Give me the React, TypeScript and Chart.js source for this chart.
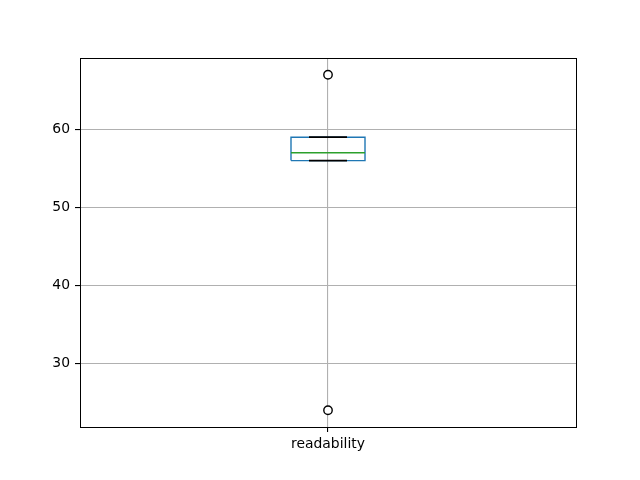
import React, { useEffect, useRef } from "react";
import { Chart, registerables } from "chart.js";

Chart.register(...registerables);

const categories = ["readability"];
const q1 = [56];
const median = [57];
const q3 = [59];
const whiskerLow = [56];
const whiskerHigh = [59];
const outliers = [[67, 24]];
const yTicks = [30, 40, 50, 60];
const yMin = 21.85;
const yMax = 69.15;

const center = 0.5;
const boxHalf = 0.0746;
const capHalf = 0.0383;

const framePlugin = {
  id: "frame",
  afterDraw(chart: any) {
    const { ctx, chartArea } = chart;
    ctx.save();
    ctx.strokeStyle = "#000";
    ctx.lineWidth = 1;
    ctx.strokeRect(
      Math.round(chartArea.left) + 0.5,
      Math.round(chartArea.top) + 0.5,
      Math.round(chartArea.right - chartArea.left),
      Math.round(chartArea.bottom - chartArea.top)
    );
    ctx.restore();
  },
};

export default function App() {
  const ref = useRef<HTMLCanvasElement>(null);
  useEffect(() => {
    const i = 0;
    const lineDs = (data: any[], color: string, width: number, order: number) => ({
      type: "line" as const,
      data,
      borderColor: color,
      borderWidth: width,
      pointRadius: 0,
      showLine: true,
      fill: false,
      tension: 0,
      order,
    });
    const box = [
      { x: center - boxHalf, y: q1[i] },
      { x: center + boxHalf, y: q1[i] },
      { x: center + boxHalf, y: q3[i] },
      { x: center - boxHalf, y: q3[i] },
      { x: center - boxHalf, y: q1[i] },
    ];
    const chart = new Chart(ref.current!, {
      type: "scatter",
      data: {
        datasets: [
          lineDs([{ x: center, y: q3[i] }, { x: center, y: whiskerHigh[i] }], "#1f77b4", 1.4, 6),
          lineDs([{ x: center, y: q1[i] }, { x: center, y: whiskerLow[i] }], "#1f77b4", 1.4, 6),
          lineDs(box, "#1f77b4", 1.4, 5),
          lineDs([{ x: center - capHalf, y: whiskerHigh[i] }, { x: center + capHalf, y: whiskerHigh[i] }], "#000", 1.8, 3),
          lineDs([{ x: center - capHalf, y: whiskerLow[i] }, { x: center + capHalf, y: whiskerLow[i] }], "#000", 1.8, 3),
          lineDs([{ x: center - boxHalf, y: median[i] }, { x: center + boxHalf, y: median[i] }], "#2ca02c", 1.4, 2),
          {
            type: "scatter" as const,
            data: outliers[i].map((v) => ({ x: center, y: v })),
            borderColor: "#000",
            backgroundColor: "#fff",
            borderWidth: 1.4,
            pointRadius: 4.2,
            pointStyle: "circle",
            order: 1,
          },
        ] as any,
      },
      options: {
        animation: false,
        responsive: false,
        layout: { padding: { left: 0, right: 64, top: 58, bottom: 0 } },
        plugins: { legend: { display: false }, tooltip: { enabled: false } },
        scales: {
          x: {
            type: "linear",
            min: 0,
            max: 1,
            afterBuildTicks: (s: any) => {
              s.ticks = categories.map((_, k) => ({ value: center + k }));
            },
            afterFit: (s: any) => {
              s.height = 53;
            },
            ticks: {
              callback: (_v: any, idx: number) => categories[idx],
              color: "#000",
              font: { family: "DejaVu Sans", size: 13.9 },
              padding: 4,
              maxRotation: 0,
            },
            grid: {
              color: "#b0b0b0",
              lineWidth: 1.1,
              tickColor: "#000",
              tickLength: 5,
              tickWidth: 1.1,
            },
            border: { display: false },
          },
          y: {
            type: "linear",
            min: yMin,
            max: yMax,
            afterBuildTicks: (s: any) => {
              s.ticks = yTicks.map((v) => ({ value: v }));
            },
            afterFit: (s: any) => {
              s.width = 80;
            },
            ticks: {
              color: "#000",
              font: { family: "DejaVu Sans", size: 13.9 },
              padding: 5,
            },
            grid: {
              color: "#b0b0b0",
              lineWidth: 1.1,
              tickColor: "#000",
              tickLength: 5,
              tickWidth: 1.1,
            },
            border: { display: false },
          },
        },
      },
      plugins: [framePlugin],
    } as any);
    return () => chart.destroy();
  }, []);
  return (
    <div style={{ position: "fixed", left: 0, top: 0, width: 640, height: 480, background: "#fff" }}>
      <canvas ref={ref} width={640} height={480} />
    </div>
  );
}
